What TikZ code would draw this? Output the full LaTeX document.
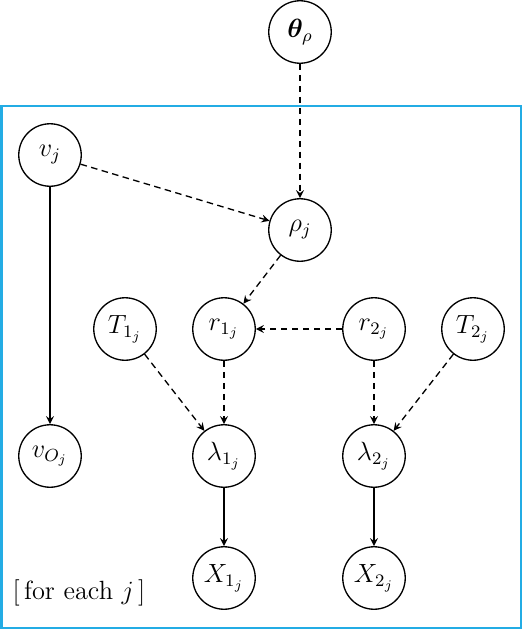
\documentclass[tikz,border=0pt]{standalone}
\usepackage{amsmath}
\usepackage{amssymb}
\usepackage{bm}
\usetikzlibrary{arrows,positioning,calc,backgrounds}
\usepackage{xcolor}
\definecolor{platecol}{RGB}{35,172,228}

\begin{document}
\begin{tikzpicture}[x=0.016cm,y=-0.016cm,font=\large,
        latent/.style={circle,draw,semithick,minimum size=1cm,inner sep=0pt},
        dep/.style={-stealth,semithick,dash pattern=on 3pt off 2pt},
        link/.style={-stealth,semithick}]
        \useasboundingbox (0,0) rectangle (524,630);
        \node[latent] (theta) at (300,32) {$\bm{\theta}_\rho$};
        \node[latent] (v) at (50,155) {$v_j$};
        \node[latent] (rho) at (300,230) {$\rho_j$};
        \node[latent] (T1) at (125,329) {$T_{1_j}$};
        \node[latent] (r1) at (224,329) {$r_{1_j}$};
        \node[latent] (r2) at (374,329) {$r_{2_j}$};
        \node[latent] (T2) at (473,329) {$T_{2_j}$};
        \node[latent] (vO) at (50,456) {$v_{O_j}$};
        \node[latent] (l1) at (224,456) {$\lambda_{1_j}$};
        \node[latent] (l2) at (374,456) {$\lambda_{2_j}$};
        \node[latent] (X1) at (224,578) {$X_{1_j}$};
        \node[latent] (X2) at (374,578) {$X_{2_j}$};
        \node (lab) at (79,593) {$[\,\text{for each } j\,]$};
        \draw[dep] (theta) -- (rho);
        \draw[dep] (v) -- (rho);
        \draw[dep] (rho) -- (r1);
        \draw[dep] (r2) -- (r1);
        \draw[dep] (T1) -- (l1);
        \draw[dep] (r1) -- (l1);
        \draw[dep] (r2) -- (l2);
        \draw[dep] (T2) -- (l2);
        \draw[link] (v) -- (vO);
        \draw[link] (l1) -- (X1);
        \draw[link] (l2) -- (X2);
        \begin{scope}[on background layer]
        \draw[platecol, line width=1pt] (1.5,106) rectangle (521,628);
        \end{scope}
\end{tikzpicture}
\end{document}
